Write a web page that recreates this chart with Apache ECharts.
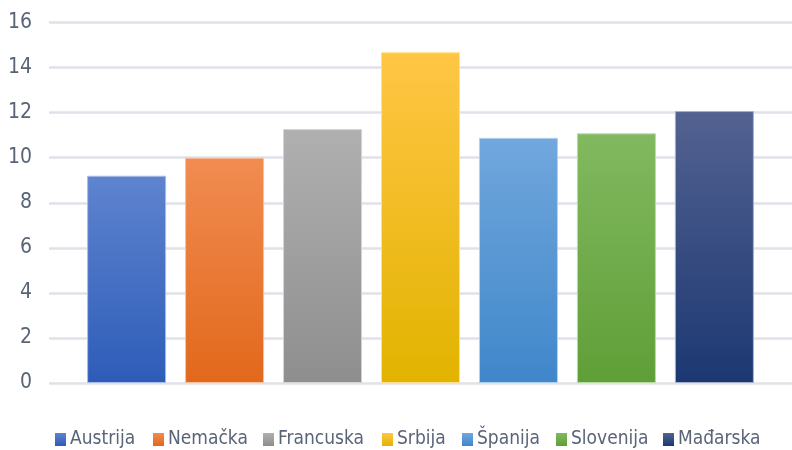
<!DOCTYPE html>
<html>
<head>
<meta charset="utf-8">
<script src="https://cdn.jsdelivr.net/npm/echarts@6/dist/echarts.min.js"></script>
<style>html,body{margin:0;padding:0;background:#fff;}#c{width:792px;height:450px;}</style>
</head>
<body>
<div id="c"></div>
<script>
const countries = ['Austrija', 'Nemačka', 'Francuska', 'Srbija', 'Španija', 'Slovenija', 'Mađarska'];
const values = [9.2, 10.0, 11.27, 14.68, 10.88, 11.08, 12.07];
const yTicks = { min: 0, max: 16, interval: 2 };

const topColors = ['#5f84cf', '#f18c52', '#b0b0b0', '#ffc645', '#71a7dd', '#82b960', '#536291'];
const bottomColors = ['#2d5cb8', '#e2681b', '#8e8e8e', '#e2b300', '#3f87ca', '#5f9f37', '#1c3872'];
const borderColors = ['#a9bde6', '#f7c09e', '#d4d4d4', '#ffe08f', '#b0d0ef', '#b9d9a5', '#a6b0cc'];

// layout: left edge of each legend entry
const legendX = [55, 153, 263, 382, 462, 556, 663];

const FONT = "'Liberation Sans Narrow', 'DejaVu Sans Condensed', 'Liberation Sans', sans-serif";
const TXT = '#5a6477';

const chart = echarts.init(document.getElementById('c'), null, { renderer: 'canvas' });

const grad = (i) => new echarts.graphic.LinearGradient(0, 0, 0, 1, [
  { offset: 0, color: topColors[i] },
  { offset: 1, color: bottomColors[i] }
]);

const series = countries.map((name, i) => ({
  name: name,
  type: 'bar',
  data: [values[i]],
  barWidth: 79,
  barGap: '24%',
  itemStyle: {
    color: grad(i),
    borderColor: borderColors[i],
    borderWidth: 1
  }
}));

const legends = countries.map((name, i) => ({
  data: [name],
  left: legendX[i],
  top: 430,
  itemWidth: 11,
  itemHeight: 13,
  icon: 'rect',
  padding: 0,
  selectedMode: false,
  itemStyle: { borderWidth: 0 },
  textStyle: { fontFamily: FONT, fontSize: 19, color: TXT, padding: [0, 0, 0, -1] }
}));

chart.setOption({
  animation: false,
  backgroundColor: '#ffffff',
  grid: { left: 49, right: -2, top: 22.5, bottom: 67, containLabel: false },
  legend: legends,
  xAxis: {
    type: 'category',
    data: [''],
    axisLine: { show: false },
    axisTick: { show: false },
    axisLabel: { show: false }
  },
  yAxis: {
    type: 'value',
    min: yTicks.min,
    max: yTicks.max,
    interval: yTicks.interval,
    axisLine: { show: false },
    axisTick: { show: false },
    axisLabel: { fontFamily: FONT, fontSize: 21, color: TXT, margin: 17 },
    splitLine: { lineStyle: { color: '#dfe2e9', width: 2.5 } }
  },
  series: series
});
</script>
</body>
</html>
